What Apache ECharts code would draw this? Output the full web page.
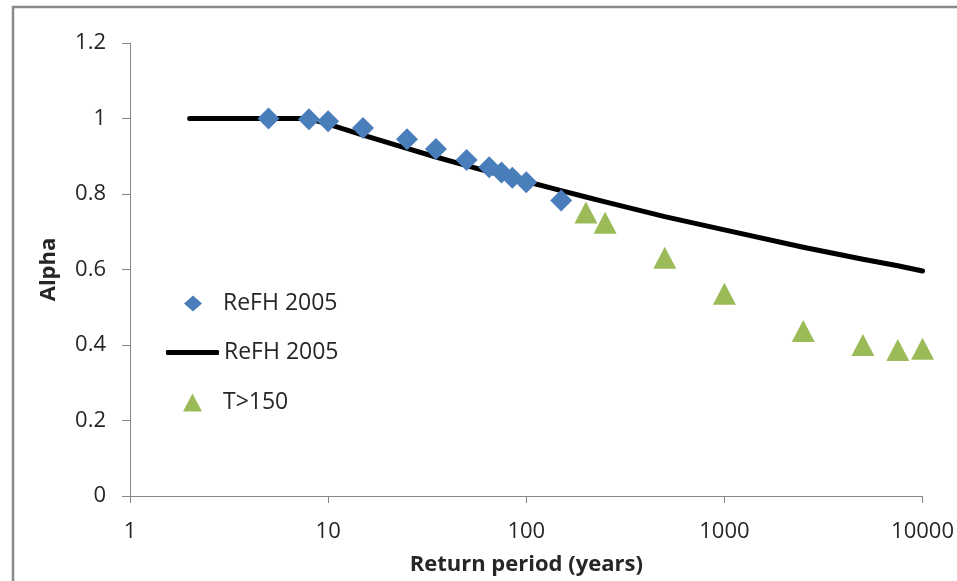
<!DOCTYPE html>
<html>
<head>
<meta charset="utf-8">
<script src="https://cdn.jsdelivr.net/npm/echarts@6/dist/echarts.min.js"></script>
<style>
html,body{margin:0;padding:0;background:#fff;}
#chart{width:957px;height:581px;}
</style>
</head>
<body>
<div id="chart"></div>
<script>
// ---- data ----
const refhPointT     = [5, 8, 10, 15, 25, 35, 50, 65, 75, 85, 100, 150];
const refhPointAlpha = [1.0, 0.998, 0.993, 0.975, 0.945, 0.919, 0.890, 0.871, 0.857, 0.843, 0.831, 0.783];

const refhLineT     = [2, 5, 8, 10, 15, 25, 35, 50, 65, 75, 85, 100, 150, 200, 250, 500, 1000, 2500, 5000, 7500, 10000];
const refhLineAlpha = [1.0, 1.0, 1.0, 0.985, 0.956, 0.921, 0.898, 0.875, 0.859, 0.850, 0.842, 0.833, 0.809, 0.792, 0.779, 0.740, 0.705, 0.659, 0.627, 0.610, 0.596];

const bigT     = [200, 250, 500, 1000, 2500, 5000, 7500, 10000];
const bigAlpha = [0.751, 0.724, 0.631, 0.536, 0.437, 0.400, 0.387, 0.390];

const xTickValues = [1, 10, 100, 1000, 10000];
const xTickLabels = ['1', '10', '100', '1000', '10000'];
const yTickLabels = ['0', '0.2', '0.4', '0.6', '0.8', '1', '1.2'];

const seriesNames = ['ReFH 2005', 'ReFH 2005 line', 'T>150'];
const legendLabels = ['ReFH 2005', 'ReFH 2005', 'T>150'];
const xTitle = 'Return period (years)';
const yTitle = 'Alpha';

const pair = (xs, ys) => xs.map((x, i) => [x, ys[i]]);

const FONT = '"Open Sans", sans-serif';
const axisColor = '#868686';
const textColor = '#262626';
const blue = '#4a7ebb';
const green = '#9bbb59';

const legendText = {fontFamily: FONT, fontSize: 23, color: textColor, lineHeight: 22};
const fmt = name => legendLabels[seriesNames.indexOf(name)];

const chart = echarts.init(document.getElementById('chart'), null, {renderer: 'canvas'});
chart.setOption({
  animation: false,
  backgroundColor: '#ffffff',
  graphic: [{
    type: 'rect',
    shape: {x: 13, y: 7, width: 1000, height: 700},
    style: {fill: 'none', stroke: '#8a8a8a', lineWidth: 2.5},
    silent: true,
    z: -10
  }],
  grid: {left: 130, right: 32, top: 43, bottom: 85},
  legend: [
    {
      left: 184, top: 292, padding: 0,
      itemWidth: 18, itemHeight: 16, selectedMode: false,
      data: [{name: seriesNames[0], icon: 'diamond', itemStyle: {color: blue, opacity: 1}}],
      formatter: fmt,
      textStyle: Object.assign({padding: [0, 0, 0, 16]}, legendText)
    },
    {
      left: 166, top: 341, padding: 0,
      itemWidth: 53, itemHeight: 5, selectedMode: false,
      data: [{name: seriesNames[1], icon: 'roundRect', itemStyle: {color: '#000000', opacity: 1}}],
      formatter: fmt,
      textStyle: legendText
    },
    {
      left: 183, top: 391, padding: 0,
      itemWidth: 19, itemHeight: 18, selectedMode: false,
      data: [{name: seriesNames[2], icon: 'triangle', itemStyle: {color: green, opacity: 1}}],
      formatter: fmt,
      textStyle: Object.assign({padding: [0, 0, 0, 16]}, legendText)
    }
  ],
  xAxis: {
    type: 'log',
    logBase: 10,
    min: 1,
    max: 10000,
    name: xTitle,
    nameLocation: 'middle',
    nameGap: 58,
    nameTextStyle: {fontFamily: FONT, fontSize: 22, fontWeight: 'bold', color: textColor},
    axisLine: {show: true, lineStyle: {color: axisColor, width: 1}},
    axisTick: {show: true, length: 7, inside: false, lineStyle: {color: axisColor}},
    minorTick: {show: false},
    splitLine: {show: false},
    axisLabel: {
      margin: 25,
      fontFamily: FONT, fontSize: 22, color: textColor,
      formatter: v => {
        const i = xTickValues.findIndex(t => Math.abs(Math.log10(v) - Math.log10(t)) < 1e-6);
        return i >= 0 ? xTickLabels[i] : '';
      }
    }
  },
  yAxis: {
    type: 'value',
    min: 0,
    max: 1.2,
    interval: 0.2,
    name: yTitle,
    nameLocation: 'middle',
    nameGap: 70,
    nameRotate: 90,
    nameTextStyle: {fontFamily: FONT, fontSize: 22, fontWeight: 'bold', color: textColor},
    axisLine: {show: true, lineStyle: {color: axisColor, width: 1}},
    axisTick: {show: true, length: 8, inside: false, lineStyle: {color: axisColor}},
    splitLine: {show: false},
    axisLabel: {
      margin: 24,
      fontFamily: FONT, fontSize: 22, color: textColor,
      formatter: v => yTickLabels[Math.round(v / 0.2)]
    }
  },
  series: [
    {
      name: seriesNames[0],
      type: 'scatter',
      symbol: 'diamond',
      symbolSize: 22,
      itemStyle: {color: blue, opacity: 1},
      data: pair(refhPointT, refhPointAlpha),
      z: 3
    },
    {
      name: seriesNames[1],
      type: 'line',
      showSymbol: false,
      symbol: 'none',
      smooth: false,
      lineStyle: {color: '#000000', width: 5, cap: 'round', join: 'round'},
      itemStyle: {color: '#000000'},
      data: pair(refhLineT, refhLineAlpha),
      z: 2
    },
    {
      name: seriesNames[2],
      type: 'scatter',
      symbol: 'triangle',
      symbolSize: [23, 22],
      itemStyle: {color: green, opacity: 1},
      data: pair(bigT, bigAlpha),
      z: 4
    }
  ]
});
</script>
</body>
</html>
